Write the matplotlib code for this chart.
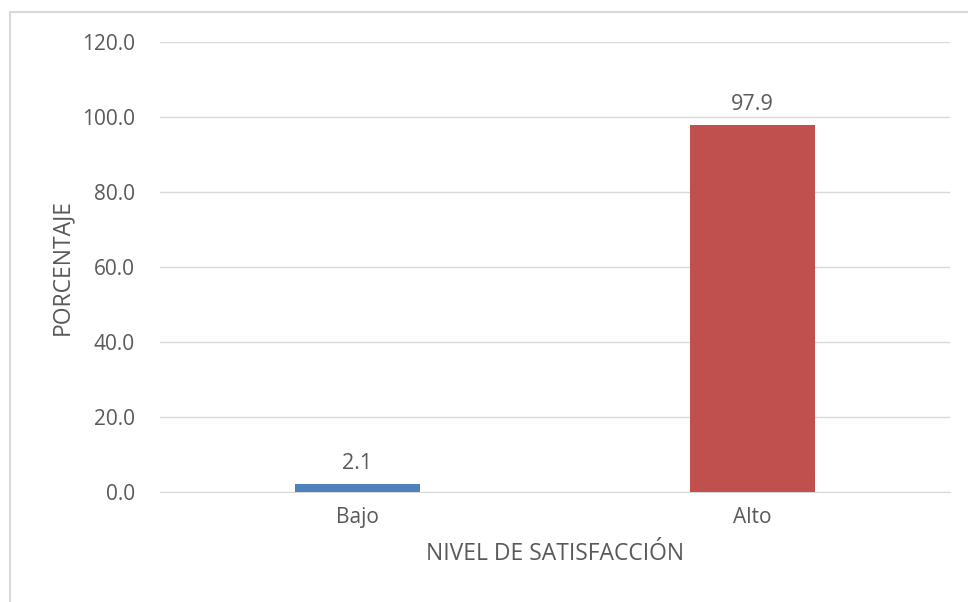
import matplotlib.pyplot as plt
from matplotlib.patches import Rectangle

categorias = ['Bajo', 'Alto']
porcentaje = [2.1, 97.9]
colores = ['#4f81bd', '#c0504d']
yticks = [0, 20, 40, 60, 80, 100, 120]

plt.rcParams['font.family'] = ['Open Sans', 'DejaVu Sans']
gris = '#595959'

fig = plt.figure(figsize=(9.68, 6.02), dpi=100)
# marco del grafico
fig.patches.append(Rectangle((10 / 968, -0.1), 1.1, 1.1 - 12 / 602, transform=fig.transFigure,
                             fill=False, edgecolor='#d9d9d9', linewidth=1.5))

ax = fig.add_axes([160 / 968, 1 - 492 / 602, (950 - 160) / 968, (492 - 42) / 602])
x = range(len(categorias))
bars = ax.bar(x, porcentaje, width=0.314, color=colores, zorder=3)
for b, v in zip(bars, porcentaje):
    ax.annotate(f'{v:.1f}', (b.get_x() + b.get_width() / 2, v), xytext=(0, 7),
                textcoords='offset points', ha='center', va='bottom', fontsize=15.5, color=gris)

ax.set_xlim(-0.5, 1.5)
ax.set_ylim(0, 120)
ax.set_yticks(yticks)
ax.set_yticklabels([f'{t:.1f}' for t in yticks])
ax.set_xticks(list(x))
ax.set_xticklabels(categorias)
ax.tick_params(axis='both', length=0, labelsize=15, colors=gris)
ax.tick_params(axis='y', pad=18)
ax.tick_params(axis='x', pad=11)
ax.grid(axis='y', color='#d9d9d9', linewidth=1, zorder=0)
for s in ['top', 'right', 'left']:
    ax.spines[s].set_visible(False)
ax.spines['bottom'].set_color('#d9d9d9')
ax.set_ylabel('PORCENTAJE', fontsize=16.5, color=gris, labelpad=6)
ax.set_xlabel('NIVEL DE SATISFACCIÓN', fontsize=16.5, color=gris, labelpad=10)

fig.savefig('out.png', dpi=100)
